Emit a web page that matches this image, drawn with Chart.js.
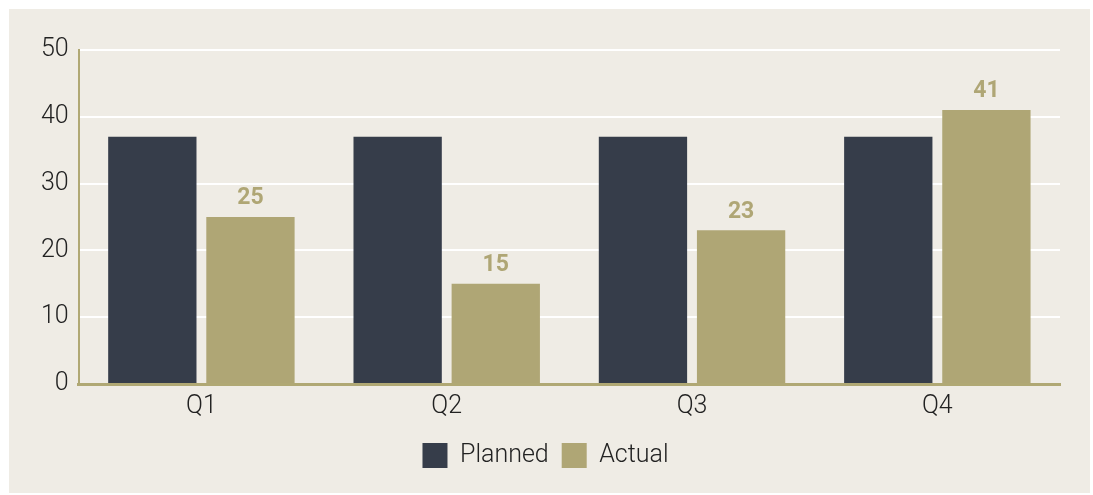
<!DOCTYPE html>
<html>
<head>
<meta charset="utf-8">
<script src="https://cdn.jsdelivr.net/npm/chart.js@4"></script>
<style>
  html, body { margin: 0; padding: 0; background: #ffffff; }
  #chart-container { position: absolute; left: 9px; top: 9px; width: 1081px; height: 484px; background: #efece5; }
</style>
</head>
<body>
<div id="chart-container"><canvas id="quarterChart"></canvas></div>
<script>
const quarters = ["Q1", "Q2", "Q3", "Q4"];
const planned = [37, 37, 37, 37];
const actual = [25, 15, 23, 41];
const yTicks = [0, 10, 20, 30, 40, 50];

// draws the value on top of the Actual bars
const barLabels = {
    id: 'barLabels',
    afterDatasetsDraw(chart) {
        const ctx = chart.ctx;
        const meta = chart.getDatasetMeta(1);
        ctx.save();
        ctx.font = 'bold 23px Roboto';
        ctx.fillStyle = '#afa675';
        ctx.textAlign = 'center';
        ctx.textBaseline = 'bottom';
        meta.data.forEach((bar, i) => {
            ctx.fillText(actual[i], bar.x, bar.y - 7);
        });
        ctx.restore();
    }
};

const data = {
    labels: quarters,
    datasets: [{
        label: 'Planned',
        data: planned,
        backgroundColor: '#363d4a'
    }, {
        label: 'Actual',
        data: actual,
        backgroundColor: '#afa675'
    }]
};

const tickFont = { family: 'Roboto', size: 25, weight: 300 };

const options = {
    responsive: true,
    maintainAspectRatio: false,
    animation: false,
    layout: { padding: { top: 41, right: 30, bottom: 15, left: 22 } },
    plugins: {
        legend: {
            position: 'bottom',
            labels: {
                boxWidth: 25,
                boxHeight: 25,
                padding: 13,
                color: '#222222',
                font: { family: 'Roboto', size: 25, weight: 300 }
            }
        },
        tooltip: { enabled: false }
    },
    scales: {
        x: {
            grid: { display: false, drawTicks: false },
            border: { color: '#b0a874', width: 3 },
            ticks: { color: '#222222', padding: 8, font: tickFont }
        },
        y: {
            min: 0,
            max: 50,
            afterBuildTicks: axis => { axis.ticks = yTicks.map(v => ({ value: v })); },
            grid: { color: '#ffffff', lineWidth: 2, drawTicks: false },
            border: { color: '#b0a874', width: 2 },
            ticks: { color: '#222222', padding: 10, font: tickFont }
        }
    }
};

new Chart(document.getElementById('quarterChart').getContext('2d'), {
    type: 'bar', data: data, options: options, plugins: [barLabels]
});
</script>
</body>
</html>
